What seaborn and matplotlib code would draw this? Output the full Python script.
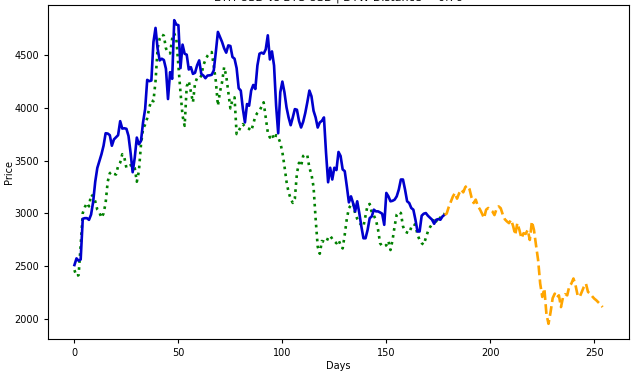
import matplotlib
matplotlib.use("Agg")
import matplotlib.pyplot as plt
import numpy as np
import pandas as pd
import seaborn as sns


TITLE = "ETH-USD vs BTC-USD | DTW Distance = 0.76"

# matched history (days 0..178)
eth_price = [
    2513, 2576, 2554, 2566, 2950, 2956, 2956, 2940, 2990, 3110,
    3300, 3430, 3495, 3560, 3640, 3758, 3755, 3740, 3640, 3700,
    3720, 3740, 3872, 3802, 3805, 3800, 3733, 3574, 3390, 3527,
    3717, 3654, 3685, 3860, 3986, 4262, 4250, 4256, 4620, 4753,
    4557, 4446, 4462, 4450, 4367, 4081, 4335, 4272, 4826, 4785,
    4779, 4373, 4595, 4509, 4500, 4360, 4382, 4319, 4329, 4400,
    4446, 4319, 4303, 4278, 4303, 4305, 4310, 4351, 4525, 4715,
    4668, 4620, 4560, 4519, 4588, 4582, 4478, 4462, 4373, 4183,
    4161, 3990, 3860, 4034, 4018, 4161, 4214, 4176, 4398, 4509,
    4519, 4509, 4550, 4683, 4455, 4531, 4398, 4018, 3758, 4145,
    4246, 4145, 4002, 3907, 3834, 3907, 3986, 3980, 3875, 3812,
    3866, 3948, 4050, 4161, 4107, 3970, 3907, 3812, 3860, 3875,
    3907, 3574, 3295, 3432, 3321, 3432, 3410, 3581, 3543, 3416,
    3400, 3257, 3105, 3162, 3099, 3020, 3115, 3004, 2877, 2766,
    2766, 2845, 2956, 2972, 3036, 3020, 3020, 3010, 2998, 2893,
    3194, 3162, 3115, 3120, 3131, 3162, 3226, 3321, 3321, 3226,
    3115, 3099, 3052, 3036, 2941, 2830, 2830, 2979, 2998, 3004,
    2979, 2960, 2941, 2903, 2941, 2947, 2941, 2972, 2988,
]

btc_scaled = [
    2465, 2408, 2418, 2700, 3004, 3060, 3099, 3067, 3178, 3162,
    3115, 3036, 3010, 2960, 3000, 3100, 3300, 3380, 3395, 3375,
    3368, 3448, 3480, 3560, 3530, 3430, 3448, 3455, 3463, 3430,
    3300, 3400, 3650, 3800, 3840, 3900, 4000, 4070, 4060, 4250,
    4560, 4652, 4690, 4680, 4560, 4520, 4512, 4650, 4700, 4650,
    4398, 4145, 3923, 3828, 4200, 4250, 4150, 4050, 4230, 4280,
    4275, 4300, 4400, 4450, 4490, 4515, 4525, 4398, 4250, 4018,
    4150, 4240, 4382, 4300, 4150, 3993, 4075, 4097, 3750, 3780,
    3820, 3844, 3821, 3810, 3800, 3780, 3844, 3920, 3950, 3970,
    4010, 4050, 3907, 3764, 3717, 3749, 3701, 3740, 3720, 3669,
    3580, 3448, 3300, 3200, 3140, 3100, 3140, 3380, 3479, 3448,
    3543, 3560, 3550, 3432, 3370, 3250, 2950, 2687, 2620, 2740,
    2734, 2725, 2770, 2790, 2760, 2740, 2719, 2750, 2703, 2670,
    2800, 2950, 3050, 3080, 3099, 3000, 2950, 2915, 2890, 2877,
    2980, 3080, 3090, 3010, 2980, 2940, 2850, 2720, 2690, 2690,
    2700, 2740, 2655, 2750, 2880, 2990, 3015, 3004, 2880, 2830,
    2820, 2814, 2870, 2900, 2890, 2800, 2750, 2720, 2705, 2770,
    2830, 2870, 2900, 2956, 2925, 2972, 2956, 2988, 2998,
]

# continuation (days 178..254)
projection = [
    2988, 2998, 3060, 3110, 3160, 3194, 3140, 3190, 3226, 3200,
    3250, 3264, 3230, 3150, 3099, 3131, 3070, 3040, 3000, 2956,
    3036, 3052, 3036, 3020, 2985, 3042, 3067, 3050, 2990, 2945,
    2925, 2909, 2941, 2880, 2798, 2909, 2845, 2766, 2814, 2807,
    2845, 2750, 2925, 2845, 2700, 2560, 2338, 2212, 2291, 2050,
    1958, 2069, 2200, 2243, 2205, 2227, 2116, 2212, 2237, 2227,
    2313, 2338, 2386, 2322, 2227, 2212, 2259, 2307, 2338, 2259,
    2243, 2218, 2196, 2180, 2160, 2140, 2116,
]


def main():
    hist = pd.DataFrame({
        "day": np.arange(len(eth_price)),
        "eth": eth_price,
        "btc": btc_scaled,
    })
    start = len(eth_price) - 1
    proj = pd.DataFrame({
        "day": np.arange(start, start + len(projection)),
        "price": projection,
    })

    fig = plt.figure(figsize=(6.37, 3.73), dpi=100)
    ax = fig.add_axes([0.0754, 0.0912, 0.912, 0.8954])

    sns.lineplot(data=hist, x="day", y="btc", ax=ax, color="green",
                 linestyle=":", linewidth=1.9)
    sns.lineplot(data=hist, x="day", y="eth", ax=ax, color="mediumblue",
                 linewidth=1.9)
    sns.lineplot(data=proj, x="day", y="price", ax=ax, color="orange",
                 linestyle="--", linewidth=1.9)

    # the title sits mostly above the top edge, as in the source image
    ax.set_title(TITLE, fontsize=8, pad=3)
    ax.set_xlabel("Days", fontsize=7, labelpad=2)
    ax.set_ylabel("Price", fontsize=7, labelpad=0)
    ax.tick_params(labelsize=7, length=3)

    fig.savefig("out.png", dpi=100)
    plt.close(fig)


if __name__ == "__main__":
    main()
